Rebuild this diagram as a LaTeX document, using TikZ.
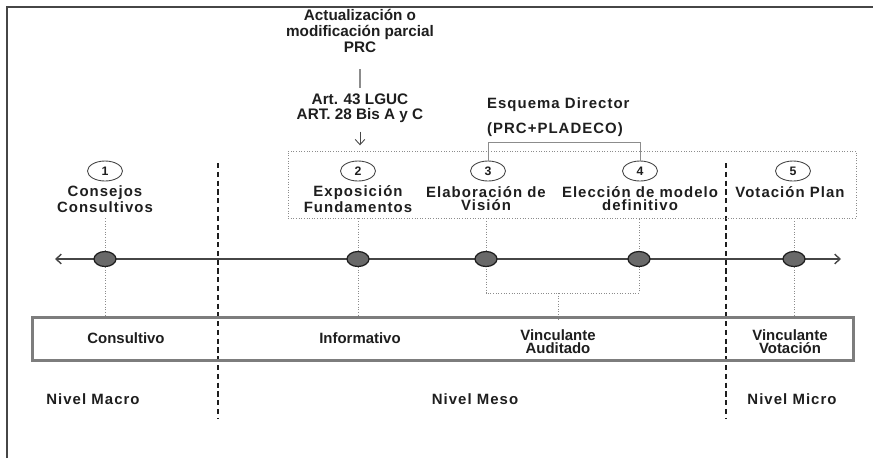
\documentclass[tikz,border=0pt]{standalone}
\usepackage{fontspec}
\setmainfont{Liberation Sans}
\usepackage{xcolor}
\usetikzlibrary{arrows.meta,positioning,backgrounds,shapes.geometric}
\definecolor{ink}{RGB}{30,30,30}
\definecolor{dotc}{RGB}{105,105,105}
\definecolor{linec}{RGB}{70,70,70}
\definecolor{grey}{RGB}{140,140,140}
\definecolor{boxc}{RGB}{125,125,125}

\begin{document}
\begin{tikzpicture}[x=0.02cm, y=-0.02cm,
  lbl/.style={font=\fontsize{8.7}{9.2}\selectfont\bfseries, text=ink, align=center, inner sep=1pt},
  boxlbl/.style={font=\fontsize{8.5}{7.3}\selectfont\bfseries, text=ink, align=center, inner sep=1pt},
  wide/.style={font=\fontsize{8.5}{7.4}\selectfont\bfseries\addfontfeature{LetterSpace=7}, text=ink, align=center, inner sep=1pt},
  num/.style={ellipse, draw=linec, line width=0.5pt, minimum width=0.7cm, minimum height=0.4cm, inner sep=0pt, font=\fontsize{7}{8}\selectfont\bfseries, text=ink},
  dot/.style={ellipse, draw=ink, fill=dotc, line width=0.7pt, minimum width=0.44cm, minimum height=0.3cm, inner sep=0pt},
  dotline/.style={draw=grey, densely dotted, line width=0.5pt},
  divider/.style={draw=ink, densely dashed, line width=0.6pt},
  barb/.style={-{Straight Barb[length=3pt,width=5.5pt]}}]
  \useasboundingbox (0,0) rectangle (873,458);
  \draw[linec, line width=0.8pt] (7,458) -- (7,7) -- (873,7);

  % top notes
  \node[lbl] (prc) at (360,31) {Actualización o\\modificación parcial\\PRC};
  \node[lbl, font=\fontsize{8.7}{8.6}\selectfont\bfseries] (art) at (360,108) {Art. 43 LGUC\\ART. 28 Bis A y C};
  \node[wide, anchor=west] (esq) at (485,105) {Esquema Director};
  \node[wide, anchor=west] (pla) at (485,130) {(PRC+PLADECO)};

  % phases
  \node[draw=grey, densely dotted, line width=0.5pt, minimum width=11.36cm, minimum height=1.34cm] (ph) at (572,184.5) {};
  \foreach \i/\x in {1/105,2/358,3/488,4/640,5/793}
    \node[num] (c\i) at (\x,171) {\i};
  \node[wide] (l1) at (105,199) {Consejos\\Consultivos};
  \node[wide] (l2) at (358,199) {Exposición\\Fundamentos};
  \node[wide] (l3) at (486,199) {Elaboración de\\Visión};
  \node[wide] (l4) at (640,199) {Elección de modelo\\definitivo};
  \node[wide] (l5) at (790,192) {Votación Plan};

  % timeline
  \coordinate (tl) at (55,259);
  \coordinate (tr) at (841,259);
  \foreach \i/\x in {1/105,2/358,3/486,4/639,5/794}
    \node[dot] (d\i) at (\x,259) {};

  % participation box
  \node[draw=boxc, line width=1.7pt, minimum width=16.44cm, minimum height=0.86cm] (box) at (443,338.5) {};
  \node[boxlbl] (b1) at (126,338) {Consultivo};
  \node[boxlbl] (b2) at (360,338) {Informativo};
  \node[boxlbl] (b3) at (558,342) {Vinculante\\Auditado};
  \node[boxlbl] (b4) at (790,342) {Vinculante\\Votación};

  % levels
  \node[wide] (n1) at (93,399) {Nivel Macro};
  \node[wide] (n2) at (475,399) {Nivel Meso};
  \node[wide] (n3) at (792,399) {Nivel Micro};

  \coordinate (bk) at (560,142);
  \coordinate (jn) at (558,293);
  \coordinate (v1a) at (218,163);
  \coordinate (v1b) at (218,418);
  \coordinate (v2a) at (726,163);
  \coordinate (v2b) at (726,418);

  \begin{scope}[on background layer]
    \draw[linec, line width=0.8pt, {Straight Barb[length=3pt,width=5.5pt]}-{Straight Barb[length=3pt,width=5.5pt]}] (tl) -- (tr);
    \draw[dotline] (d1 |- ph.south) -- (d1) -- ([yshift=-1.2pt]d1 |- box.north);
    \foreach \i in {2,5}
      \draw[dotline] (d\i |- ph.south) -- (d\i) -- ([yshift=-1.8pt]d\i |- box.north);
    \draw[dotline] (d3 |- ph.south) -- (d3 |- jn) -- (d4 |- jn) -- (d4 |- ph.south);
    \draw[dotline] (jn) -- ([yshift=-2.2pt]jn |- box.north);
    \draw[divider] (v1a) -- (v1b);
    \draw[divider] (v2a) -- (v2b);
  \end{scope}

  \draw[grey, line width=0.5pt] (c3.north) -- (c3.north |- bk) -- (c4.north |- bk) -- (c4.north);
  \draw[grey, line width=0.6pt, shorten <=8pt, shorten >=2pt] (prc.south) -- (art.north);
  \draw[linec, line width=0.5pt, barb, shorten <=4pt, shorten >=3pt] (art.south) -- (art.south |- ph.north);
\end{tikzpicture}
\end{document}
